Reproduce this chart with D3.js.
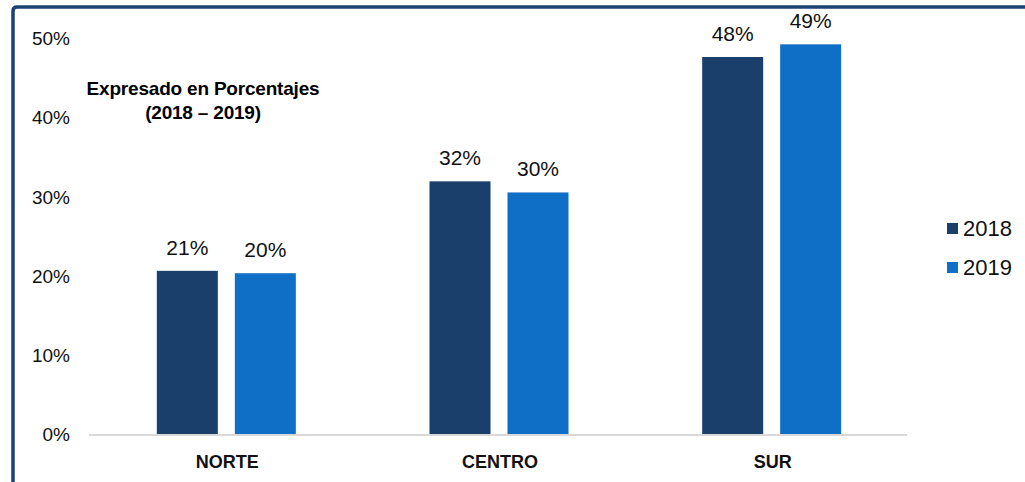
<!DOCTYPE html>
<html><head><meta charset="utf-8">
<script src="https://cdn.jsdelivr.net/npm/d3@7"></script>
<style>body{margin:0;background:#fff;} svg{display:block;}</style>
</head><body>
<script>
const categories = ["NORTE", "CENTRO", "SUR"];
const seriesNames = ["2018", "2019"];
const values2018 = [20.6, 31.9, 47.6];
const values2019 = [20.3, 30.5, 49.2];
const labels2018 = ["21%", "32%", "48%"];
const labels2019 = ["20%", "30%", "49%"];
const yTicks = [0, 10, 20, 30, 40, 50];
const titleLines = ["Expresado en Porcentajes", "(2018 – 2019)"];
const colors = ["#1a3f6b", "#0f6fc6"];

const W = 1025, H = 482;
const svg = d3.select("body").append("svg").attr("width", W).attr("height", H);

// frame
svg.append("path")
  .attr("d", "M13,482 L13,11 Q13,7 17,7 L1025,7")
  .attr("fill", "none").attr("stroke", "#1b4372").attr("stroke-width", 3.5);

const x0 = 89, x1 = 907, yTop = 38, yBot = 434;
const x = d3.scaleBand().domain(categories).range([x0, x1]).paddingInner(0).paddingOuter(0);
const y = d3.scaleLinear().domain([0, 50]).range([yBot, yTop]);
const xs = d3.scaleBand().domain(seriesNames).range([0, 139]).paddingInner(17/78);

const font = "'Liberation Sans', Arial, sans-serif";

// y axis labels
const yAxis = d3.axisLeft(y).tickValues(yTicks).tickFormat(d => d + "%").tickSize(0).tickPadding(0);
const ya = svg.append("g").attr("transform", "translate(70,0)").call(yAxis);
ya.select(".domain").remove();
ya.selectAll("text").attr("font-family", font).attr("font-size", 19).attr("fill", "#111").attr("dy", "0.35em");

// bars
const data = categories.map((c, i) => ({c, vals: [
  {s: "2018", v: values2018[i], l: labels2018[i]},
  {s: "2019", v: values2019[i], l: labels2019[i]}]}));

const g = svg.append("g");
const grp = g.selectAll("g.cat").data(data).enter().append("g")
  .attr("transform", d => `translate(${x(d.c) + x.bandwidth()/2 - 139/2 + 1},0)`);
grp.selectAll("rect").data(d => d.vals).enter().append("rect")
  .attr("x", d => xs(d.s)).attr("width", xs.bandwidth())
  .attr("y", d => y(d.v)).attr("height", d => yBot - y(d.v))
  .attr("fill", (d, i) => colors[i]);
grp.selectAll("text").data(d => d.vals).enter().append("text")
  .attr("x", d => xs(d.s) + xs.bandwidth()/2)
  .attr("y", d => y(d.v) - 16)
  .attr("text-anchor", "middle")
  .attr("font-family", font).attr("font-size", 21).attr("fill", "#111")
  .text(d => d.l);

// baseline
svg.append("line").attr("x1", x0).attr("x2", x1).attr("y1", yBot + 1).attr("y2", yBot + 1)
  .attr("stroke", "#d9d9d9").attr("stroke-width", 2);

// x axis labels
const xAxis = d3.axisBottom(x).tickSize(0).tickPadding(0);
const xa = svg.append("g").attr("transform", `translate(2,${yBot + 28})`).call(xAxis);
xa.select(".domain").remove();
xa.selectAll("text").attr("font-family", font).attr("font-size", 18).attr("font-weight", "bold")
  .attr("fill", "#111").attr("dy", "0.35em");

// title
svg.append("g").selectAll("text").data(titleLines).enter().append("text")
  .attr("x", 203).attr("y", (d, i) => 95 + i * 24)
  .attr("text-anchor", "middle")
  .attr("font-family", font).attr("font-size", 19).attr("font-weight", "bold")
  .attr("letter-spacing", "-0.2").attr("fill", "#000")
  .text(d => d);

// legend
const leg = svg.append("g").selectAll("g").data(seriesNames).enter().append("g")
  .attr("transform", (d, i) => `translate(947,${223 + i * 39})`);
leg.append("rect").attr("width", 11).attr("height", 11).attr("fill", (d, i) => colors[i]);
leg.append("text").attr("x", 16).attr("y", 13)
  .attr("font-family", font).attr("font-size", 22).attr("fill", "#111").text(d => d);
</script>
</body></html>
